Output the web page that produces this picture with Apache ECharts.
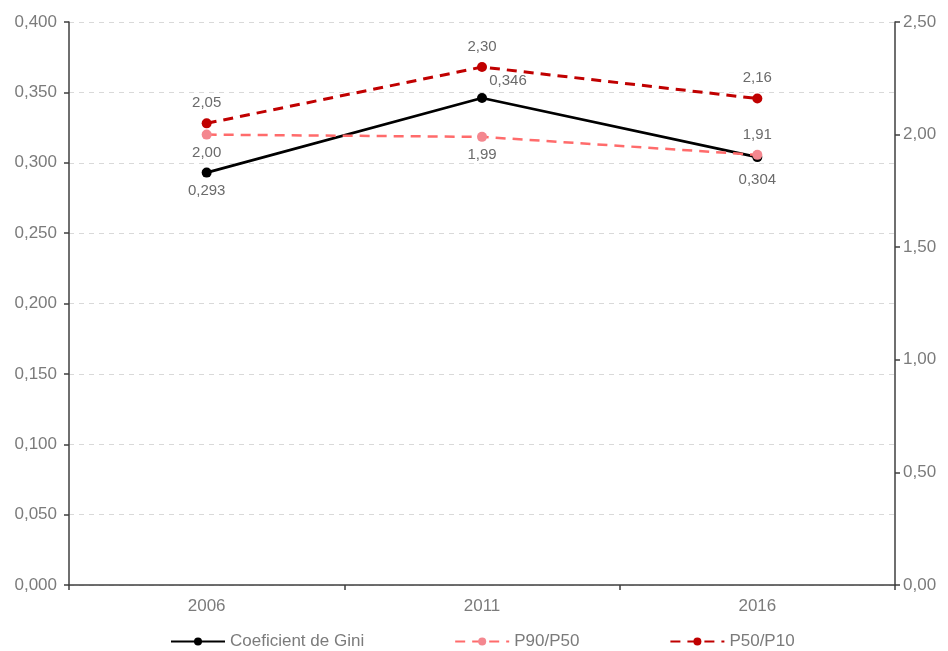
<!DOCTYPE html>
<html>
<head>
<meta charset="utf-8">
<title>Coeficient de Gini, P90/P50 i P50/P10</title>
<script src="https://cdn.jsdelivr.net/npm/echarts@6/dist/echarts.min.js"></script>
<style>
  html, body { margin: 0; padding: 0; background: #ffffff; }
  #chart { width: 948px; height: 651px; }
</style>
</head>
<body>
<div id="chart"></div>
<script>
// Years on the category axis
const years = ['2006', '2011', '2016'];

// Gini coefficient (left axis)
const gini = [0.293, 0.346, 0.304];
// Percentile ratios (right axis)
const p90p50 = [2.00, 1.99, 1.91];
const p50p10 = [2.05, 2.30, 2.16];

// Axis ranges and steps
const leftMax = 0.4, leftStep = 0.05;
const rightMax = 2.5, rightStep = 0.5;

const FONT = '"Liberation Sans", Arial, sans-serif';
const AXIS_TXT = '#7b7b7b';
const LABEL_TXT = '#6b6b6b';
const AXIS_LINE = '#3f3f3f';

const comma = (v, d) => v.toFixed(d).replace('.', ',');

function labelAt(pos, dist, offset) {
  const l = {
    show: true, position: pos, distance: dist,
    color: LABEL_TXT, fontFamily: FONT, fontSize: 15
  };
  if (offset) l.offset = offset;
  return l;
}

const chart = echarts.init(document.getElementById('chart'), null, { renderer: 'canvas' });

chart.setOption({
  animation: false,
  backgroundColor: '#ffffff',
  textStyle: { fontFamily: FONT },
  grid: { left: 69, right: 53, top: 22, bottom: 66, containLabel: false },
  legend: {
    bottom: -4,
    left: 165,
    itemWidth: 54,
    itemHeight: 10,
    itemGap: 90,
    textStyle: { color: AXIS_TXT, fontFamily: FONT, fontSize: 17 },
    data: ['Coeficient de Gini', 'P90/P50', 'P50/P10']
  },
  xAxis: {
    type: 'category',
    data: years,
    boundaryGap: true,
    axisLine: { lineStyle: { color: AXIS_LINE, width: 1.5 } },
    axisTick: { show: true, length: 5, inside: false, lineStyle: { color: AXIS_LINE, width: 1.5 } },
    axisLabel: { color: AXIS_TXT, fontFamily: FONT, fontSize: 17, margin: 13 },
    splitLine: { show: false }
  },
  yAxis: [
    {
      type: 'value',
      min: 0, max: leftMax, interval: leftStep,
      axisLine: { show: true, lineStyle: { color: AXIS_LINE, width: 1.5 } },
      axisTick: { show: true, length: 5, lineStyle: { color: AXIS_LINE, width: 1.5 } },
      axisLabel: { color: AXIS_TXT, fontFamily: FONT, fontSize: 17, margin: 12,
        formatter: v => comma(v, 3) },
      splitLine: { show: true, lineStyle: { color: '#d9d9d9', width: 1, type: [5, 5] } }
    },
    {
      type: 'value',
      position: 'right',
      min: 0, max: rightMax, interval: rightStep,
      axisLine: { show: true, lineStyle: { color: AXIS_LINE, width: 1.5 } },
      axisTick: { show: true, length: 5, lineStyle: { color: AXIS_LINE, width: 1.5 } },
      axisLabel: { color: AXIS_TXT, fontFamily: FONT, fontSize: 17, margin: 8,
        formatter: v => comma(v, 2) },
      splitLine: { show: false }
    }
  ],
  series: [
    {
      name: 'Coeficient de Gini',
      type: 'line',
      yAxisIndex: 0,
      z: 2,
      symbol: 'circle',
      symbolSize: 10,
      itemStyle: { color: '#000000' },
      lineStyle: { color: '#000000', width: 2.8 },
      data: gini.map((v, i) => ({
        value: v,
        label: i === 1 ? labelAt('top', 5, [26, 0]) : labelAt('bottom', i === 2 ? 10 : 6)
      })),
      label: { show: true, formatter: p => comma(p.value, 3) }
    },
    {
      name: 'P90/P50',
      type: 'line',
      yAxisIndex: 1,
      z: 3,
      symbol: 'circle',
      symbolSize: 10,
      itemStyle: { color: '#f4878f' },
      lineStyle: { color: '#ff6b6b', width: 2.5, type: [10, 7] },
      data: p90p50.map((v, i) => ({
        value: v,
        label: i === 2 ? labelAt('top', 8) : labelAt('bottom', 6)
      })),
      label: { show: true, formatter: p => comma(p.value, 2) }
    },
    {
      name: 'P50/P10',
      type: 'line',
      yAxisIndex: 1,
      z: 3,
      symbol: 'circle',
      symbolSize: 10,
      itemStyle: { color: '#c00000' },
      lineStyle: { color: '#c00000', width: 3, type: [10, 7] },
      data: p50p10.map(v => ({ value: v, label: labelAt('top', 8) })),
      label: { show: true, formatter: p => comma(p.value, 2) }
    }
  ]
});
</script>
</body>
</html>
